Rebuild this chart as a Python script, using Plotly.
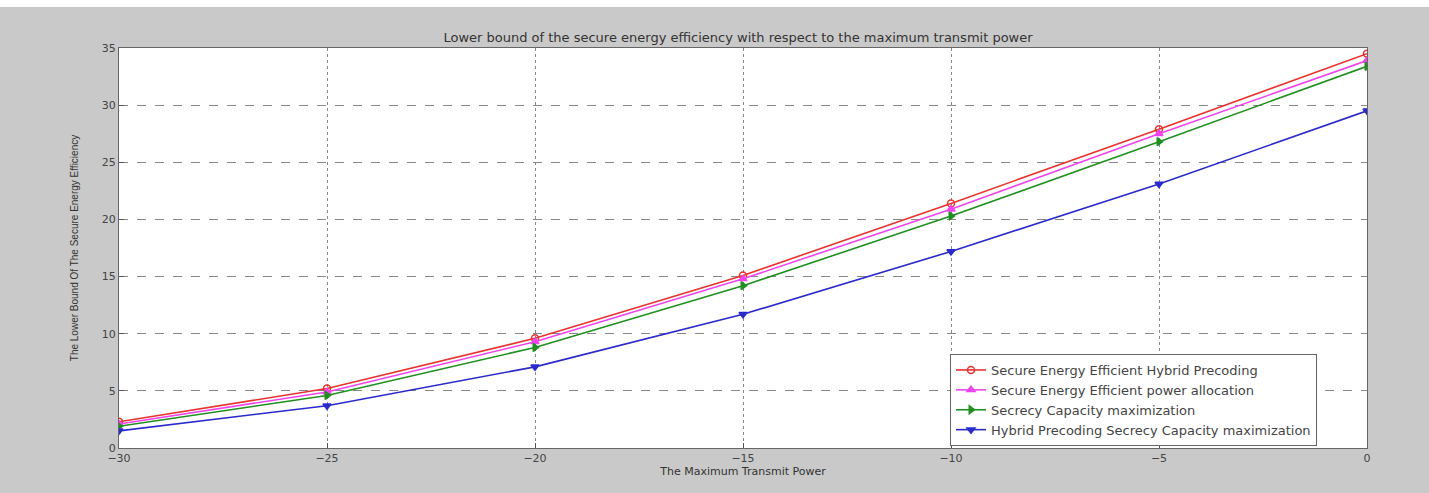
import plotly.graph_objects as go

x_power = [-30, -25, -20, -15, -10, -5, 0]
see_hybrid = [2.3, 5.2, 9.6, 15.1, 21.4, 27.9, 34.5]
see_power_alloc = [2.1, 4.9, 9.3, 14.8, 20.9, 27.5, 33.9]
secrecy_cap = [1.9, 4.6, 8.8, 14.2, 20.3, 26.8, 33.4]
hybrid_secrecy = [1.5, 3.7, 7.1, 11.7, 17.2, 23.1, 29.5]

series = [
    ("Secure Energy Efficient Hybrid Precoding", see_hybrid, "#e8322f", "circle-open"),
    ("Secure Energy Efficient power allocation", see_power_alloc, "#ee44ee", "triangle-up"),
    ("Secrecy Capacity maximization", secrecy_cap, "#1f8f1f", "triangle-right"),
    ("Hybrid Precoding Secrecy Capacity maximization", hybrid_secrecy, "#2a2acc", "triangle-down"),
]

fig = go.Figure()
for name, vals, col, sym in series:
    fig.add_trace(go.Scatter(
        x=x_power, y=vals, mode="lines+markers", name=name,
        line=dict(color=col, width=1.6),
        marker=dict(symbol=sym, size=7, color=col, line=dict(color=col, width=1.5)),
    ))

wide = "DejaVu Sans, Verdana, sans-serif"
narrow = "Liberation Sans, Arial, sans-serif"
fig.update_layout(
    width=1429, height=493,
    paper_bgcolor="#c9c9c9", plot_bgcolor="white",
    margin=dict(l=119, r=62, t=48, b=45),
    font=dict(family=wide, size=11, color="#333333"),
    title=dict(text="Lower bound of the secure energy efficiency with respect to the maximum transmit power",
               x=738 / 1429, xanchor="center", xref="container",
               y=1 - 37 / 493, yanchor="middle",
               font=dict(family=wide, size=13, color="#333333")),
    showlegend=True,
    legend=dict(x=(950 - 119) / 1248, y=(448 - 400) / 400, xanchor="left", yanchor="middle",
                bgcolor="white", bordercolor="#666666", borderwidth=1,
                font=dict(family=wide, size=13, color="#444444"), tracegroupgap=0),
    shapes=[dict(type="rect", xref="paper", yref="paper",
                 x0=-0.2, x1=1.2, y0=1 + 41 / 400, y1=1.3,
                 fillcolor="white", line=dict(width=0), layer="below")],
)
fig.update_xaxes(
    range=[-30, 0], tickmode="array", tickvals=x_power,
    ticks="inside", ticklen=5, tickcolor="#555555",
    showline=True, mirror=True, linecolor="#666666", linewidth=1,
    showgrid=True, gridcolor="#888888", griddash="dot", gridwidth=1,
    zeroline=False,
    title=dict(text="The Maximum Transmit Power", standoff=2,
               font=dict(family=wide, size=11)),
    tickfont=dict(family=wide, size=11, color="#444444"),
)
fig.update_yaxes(
    range=[0, 35], tickmode="array", tickvals=[0, 5, 10, 15, 20, 25, 30, 35],
    ticks="inside", ticklen=5, tickcolor="#555555",
    showline=True, mirror=True, linecolor="#666666", linewidth=1,
    showgrid=True, gridcolor="#888888", griddash="dash", gridwidth=1,
    zeroline=False,
    title=dict(text="The Lower Bound Of The Secure Energy Efficiency", standoff=21,
               font=dict(family=narrow, size=10)),
    tickfont=dict(family=wide, size=11, color="#444444"),
)
fig.write_html("out.html", config={"displayModeBar": False},
               post_script="document.body.style.margin='0px';")
